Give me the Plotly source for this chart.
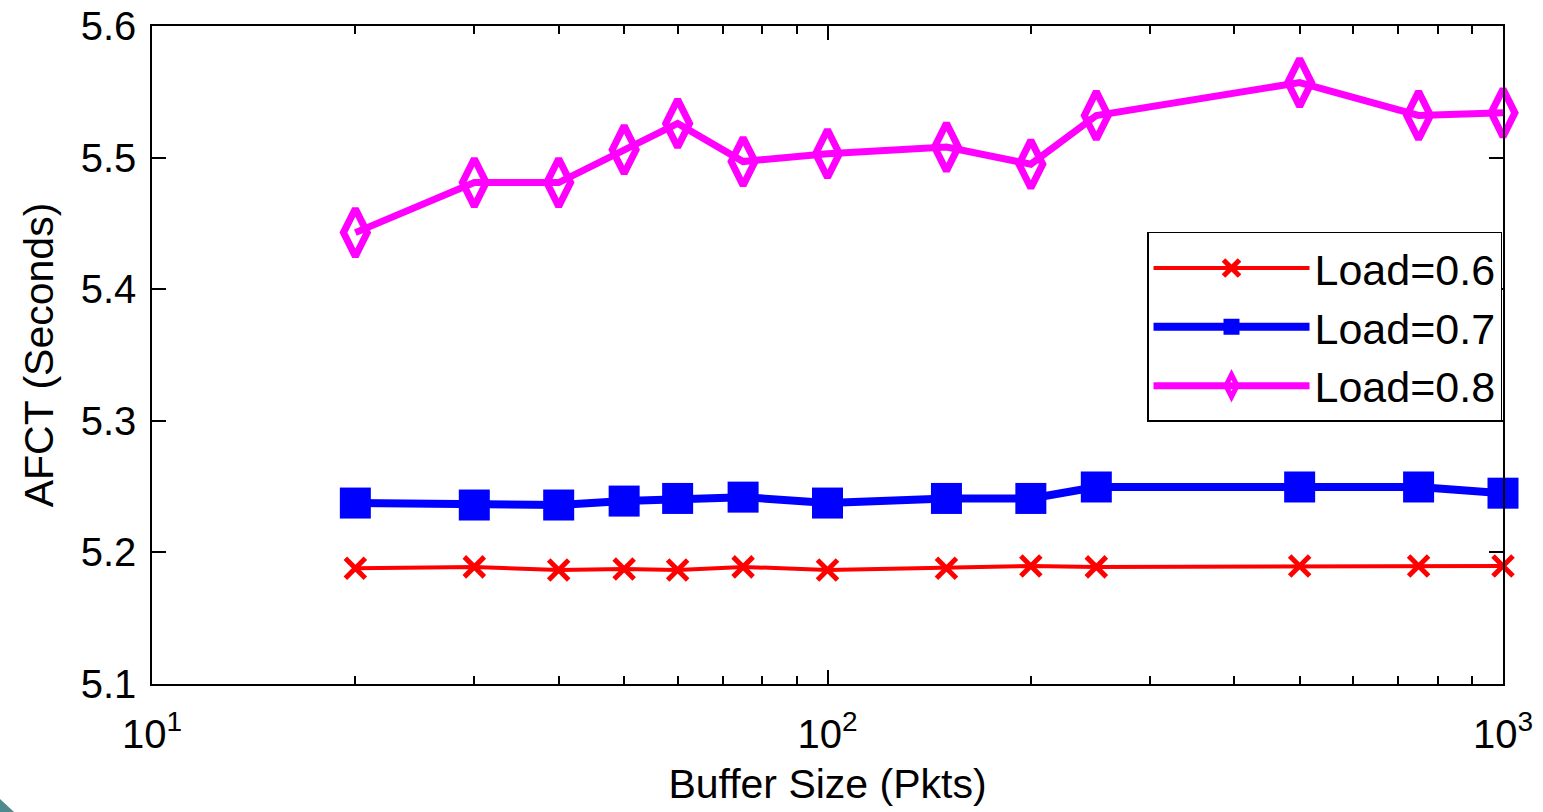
import plotly.graph_objects as go

# Data
buffer_sizes = [20, 30, 40, 50, 60, 75, 100, 150, 200, 250, 500, 750, 1000]
load_06 = [5.188, 5.189, 5.1866, 5.1874, 5.1866, 5.189, 5.1866, 5.188, 5.1897, 5.189, 5.1897, 5.1897, 5.1897]
load_07 = [5.2375, 5.236, 5.236, 5.239, 5.241, 5.242, 5.2375, 5.241, 5.241, 5.2497, 5.2497, 5.2497, 5.245]
load_08 = [5.443, 5.481, 5.481, 5.506, 5.526, 5.497, 5.503, 5.508, 5.495, 5.532, 5.557, 5.532, 5.534]

x_tickvals = [10, 100, 1000]
x_ticktext = ["10<sup>1</sup>", "10<sup>2</sup>", "10<sup>3</sup>"]
y_tickvals = [5.1, 5.2, 5.3, 5.4, 5.5, 5.6]

FONT = "Liberation Sans, Arial, sans-serif"

fig = go.Figure()
fig.add_trace(go.Scatter(
    x=buffer_sizes, y=load_06, name="Load=0.6", mode="lines+markers",
    line=dict(color="#ff0000", width=4),
    marker=dict(symbol="x-thin", size=20, color="#ff0000",
                line=dict(color="#ff0000", width=5)),
    cliponaxis=False,
))
fig.add_trace(go.Scatter(
    x=buffer_sizes, y=load_07, name="Load=0.7", mode="lines+markers",
    line=dict(color="#0000ff", width=8),
    marker=dict(symbol="square", size=31, color="#0000ff"),
    cliponaxis=False,
))
fig.add_trace(go.Scatter(
    x=buffer_sizes, y=load_08, name="Load=0.8", mode="lines+markers",
    line=dict(color="#ff00ff", width=7),
    marker=dict(symbol="diamond-tall-open", size=34, color="#ff00ff",
                line=dict(color="#ff00ff", width=7)),
    cliponaxis=False,
))

fig.update_layout(
    width=1543, height=812,
    margin=dict(l=152, r=40, t=26, b=128),
    paper_bgcolor="white", plot_bgcolor="white",
    font=dict(family=FONT, color="black", size=40),
    showlegend=True,
    legend=dict(
        x=0.7365, y=0.687, xanchor="left", yanchor="top",
        bgcolor="white", bordercolor="black", borderwidth=1.5,
        font=dict(size=43, family=FONT),
        itemwidth=156, tracegroupgap=0,
    ),
    xaxis=dict(
        type="log", range=[1, 3], automargin=False,
        tickvals=x_tickvals, ticktext=x_ticktext,
        ticks="inside", ticklen=14, tickwidth=1.5, tickcolor="black",
        showline=True, linecolor="black", linewidth=1.5, mirror="ticks",
        showgrid=False, zeroline=False,
        tickfont=dict(size=40),
        minor=dict(ticks="inside", ticklen=8, tickwidth=1.5, tickcolor="black",
                   dtick="D1", showgrid=False),
        title=dict(text="Buffer Size (Pkts)", font=dict(size=41), standoff=15),
        ticklabelstandoff=14,
    ),
    yaxis=dict(
        range=[5.1, 5.6], tickvals=y_tickvals, automargin=False,
        tickformat=".1f",
        ticks="inside", ticklen=14, tickwidth=1.5, tickcolor="black",
        showline=True, linecolor="black", linewidth=1.5, mirror="ticks",
        showgrid=False, zeroline=False,
        tickfont=dict(size=40),
        title=dict(text="AFCT (Seconds)", font=dict(size=41), standoff=14),
        ticklabelstandoff=6,
    ),
    shapes=[dict(
        type="path", xref="paper", yref="paper",
        path="M -0.1125 -0.1748 L -0.1021 -0.1945 L -0.1125 -0.1945 Z",
        fillcolor="#4f8b8c", line=dict(width=0), layer="above",
    )],
)

fig.write_html("out.html")
